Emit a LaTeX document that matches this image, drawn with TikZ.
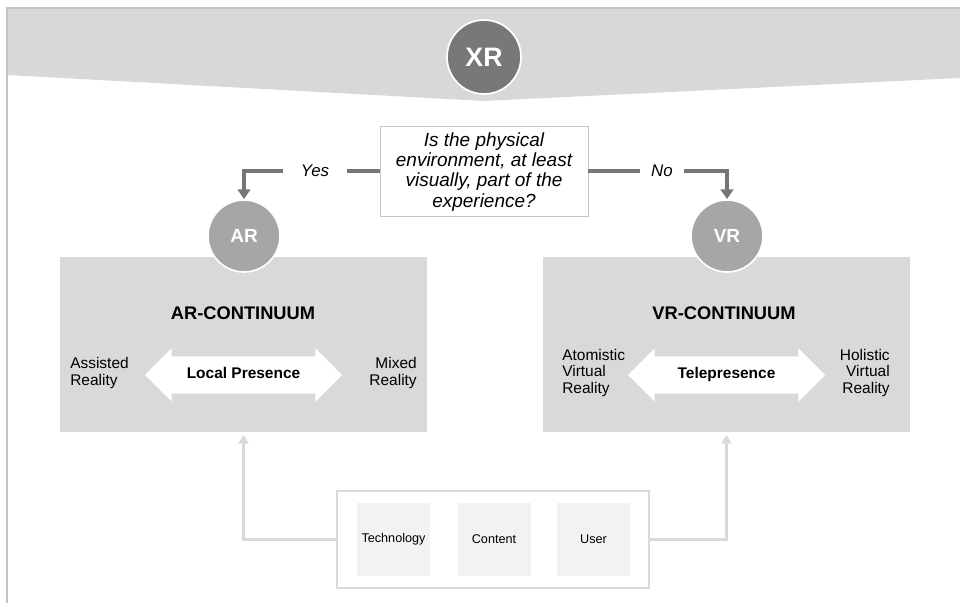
\documentclass[tikz,border=0pt]{standalone}
\usepackage{fontspec}
\setmainfont{Liberation Sans}
\usetikzlibrary{arrows.meta}
\usetikzlibrary{shapes.arrows}

\definecolor{bandgray}{HTML}{D8D8D8}
\definecolor{boxgray}{HTML}{D9D9D9}
\definecolor{xrgray}{HTML}{787878}
\definecolor{circgray}{HTML}{A6A6A6}
\definecolor{arrowgray}{HTML}{767676}
\definecolor{framegray}{HTML}{C4C4C4}
\definecolor{tilegray}{HTML}{F2F2F2}

\begin{document}
\begin{tikzpicture}[
    font=\fontsize{11}{12}\selectfont,
    badge/.style={circle, fill=circgray, draw=white, line width=1.2pt, text=white,
        font=\fontsize{13.5}{16}\selectfont\bfseries, minimum size=1.8cm, inner sep=0pt},
    continuum/.style={fill=boxgray, minimum width=9.175cm, minimum height=4.375cm, inner sep=0pt},
    presence/.style={double arrow, fill=white, double arrow head extend=0.2cm,
        minimum height=4.925cm, inner xsep=2pt, inner ysep=7.9pt, text height=7.7pt, text depth=2.75pt,
        font=\fontsize{11}{13}\selectfont\bfseries},
    endlabel/.style={inner sep=0pt},
    choice/.style={fill=white, minimum height=0.5cm, inner sep=0pt, font=\fontsize{12}{14}\selectfont\itshape},
    decision/.style={draw=arrowgray, line width=2.2pt, -{Triangle[width=9pt,length=7pt]}},
    feedback/.style={draw=boxgray, line width=2pt, -{Triangle[width=7pt,length=6pt]}, shorten >=2pt},
    tile/.style={fill=tilegray, minimum size=1.825cm, inner sep=0pt, font=\fontsize{9}{11}\selectfont}
]
            \useasboundingbox (0,0) rectangle (24,15.075);

            % Header band with frame
            \fill[bandgray] (0.175,14.875) -- (24,14.875) -- (24,13.125) -- (12.1,12.55) -- (0.175,13.2) -- cycle;
            \draw[framegray, line width=1pt] (0.175,0) -- (0.175,14.875) -- (24,14.875);
            \node[circle, fill=xrgray, draw=white, line width=1.2pt, text=white, minimum size=1.85cm, inner sep=0pt,
                font=\fontsize{19}{22}\selectfont\bfseries] (xr) at (12.1,13.65) {XR};

            % Question
            \node[draw=framegray, fill=white, line width=0.6pt, minimum width=5.2cm, minimum height=2.25cm,
                align=center, font=\fontsize{13.5}{14.5}\selectfont\itshape] (question) at (12.1,10.8)
                {\raisebox{0pt}[11pt][0pt]{}Is the physical\\environment, at least\\visually, part of the\\experience?};

            % Continuum boxes
            \node[continuum] (arbox) at (6.0875,6.4625) {};
            \node[continuum] (vrbox) at (18.1625,6.4625) {};

            \node[badge] (ar) at (6.1,9.175) {AR};
            \node[badge] (vr) at (18.175,9.175) {VR};

            % Yes / No branches
            \node[choice, minimum width=1.6cm] (yes) at (7.875,10.8) {Yes};
            \node[choice, minimum width=1.1cm] (no) at (16.55,10.8) {No};
            \draw[arrowgray, line width=2.2pt] (question.west) -- (yes.east);
            \draw[decision] (yes.west) -| (ar.north);
            \draw[arrowgray, line width=2.2pt] (question.east) -- (no.west);
            \draw[decision] (no.east) -| (vr.north);

            % AR side
            \node[font=\fontsize{13}{15}\selectfont\bfseries] (artitle) at (6.075,7.25) {AR-CONTINUUM};
            \node[presence] (local) at (6.0875,5.7) {Local Presence};
            \node[endlabel, anchor=west, align=left] (assisted) at (1.75,5.75) {Assisted\\Reality};
            \node[endlabel, anchor=east, align=right] (mixed) at (10.425,5.75) {Mixed\\Reality};

            % VR side
            \node[font=\fontsize{13}{15}\selectfont\bfseries] (vrtitle) at (18.1,7.25) {VR-CONTINUUM};
            \node[presence] (tele) at (18.1625,5.7) {Telepresence};
            \node[endlabel, anchor=west, align=left] (atomistic) at (14.05,5.75) {Atomistic\\Virtual\\Reality};
            \node[endlabel, anchor=east, align=right] (holistic) at (22.25,5.75) {Holistic\\Virtual\\Reality};

            % Factors
            \node[draw=boxgray, line width=0.8pt, minimum width=7.8cm, minimum height=2.425cm] (factors) at (12.325,1.5875) {};
            \node[tile] (tech) at (9.8375,1.5875) {Technology};
            \node[tile] (content) at (12.35,1.5875) {Content};
            \node[tile] (user) at (14.8375,1.5875) {User};

            \draw[feedback] (factors.west) -| (arbox.south);
            \draw[feedback] (factors.east) -| (vrbox.south);

        \end{tikzpicture}
\end{document}
